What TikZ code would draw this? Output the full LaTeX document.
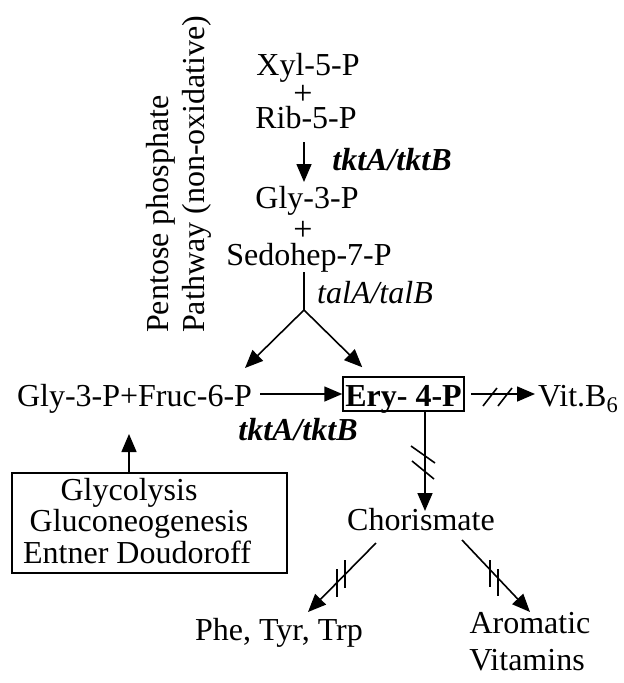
\documentclass[tikz,border=0pt]{standalone}
\usepackage{fontspec}
\setmainfont{Liberation Serif}
\usetikzlibrary{arrows.meta,calc}
\begin{document}
\begin{tikzpicture}[x=1pt,y=-1pt,
  txt/.style={inner sep=0pt, anchor=base, font=\fontsize{32}{36}\selectfont},
  bi/.style={txt, font=\fontsize{32}{36}\selectfont\bfseries\itshape},
  it/.style={txt, font=\fontsize{32}{36}\selectfont\itshape},
  plus/.style={inner sep=0pt, anchor=center, font=\fontsize{34}{36}\selectfont},
  arr/.style={line width=1.6pt, -{Triangle[length=18pt,width=15pt]}},
  ln/.style={line width=1.6pt},
  boxed/.style={draw, line width=1.5pt, inner sep=0pt},
]
\useasboundingbox (0,0) rectangle (624,683);

% rotated pathway label
\node[txt, rotate=90, anchor=base west] (ppp) at (168,333) {Pentose phosphate};
\node[txt, rotate=90, anchor=base west] (pwy) at (204,333) {Pathway (non-oxidative)};

% upper column
\node[txt] (xyl) at (308,75) {Xyl-5-P};
\node[plus] (plus1) at (303,95) {+};
\node[txt] (rib) at (306,128) {Rib-5-P};
\node[bi] (tkt1) at (392,170) {tktA/tktB};
\node[txt] (gly) at (307,208) {Gly-3-P};
\node[plus] (plus2) at (303,231) {+};
\node[txt] (sedo) at (309,265) {Sedohep-7-P};
\node[it] (tal) at (375,303) {talA/talB};
\coordinate (apex) at (304,310);

% middle row
\node[txt] (gf) at (134.5,406) {Gly-3-P+Fruc-6-P};
\node[boxed, anchor=base, text height=29pt, text depth=5pt, minimum width=121pt,
      font=\fontsize{32}{36}\selectfont\bfseries] (ery) at (403.5,406) {Ery- 4-P};
\node[txt, anchor=base west] (vit) at (538,406) {Vit.B\textsubscript{6}};
\node[bi] (tkt2) at (298,440) {tktA/tktB};

% glycolysis box
\node[boxed, minimum width=275pt, minimum height=100pt] (glycbox) at (149.5,523) {};
\node[txt] (gl1) at (129,500) {Glycolysis};
\node[txt] (gl2) at (139,531) {Gluconeogenesis};
\node[txt] (gl3) at (137,563) {Entner Doudoroff};

% lower part
\node[txt] (chor) at (421,530) {Chorismate};
\node[txt] (phe) at (279,640) {Phe, Tyr, Trp};
\node[txt] (arom1) at (530,633) {Aromatic};
\node[txt] (arom2) at (527,670) {Vitamins};

% connectors
\draw[arr] ($(rib.base)+(-2,14)$) -- ($(gly.base)+(-3,-26)$);
\draw[ln] ($(sedo.base)+(-5,7)$) -- (apex);
\draw[arr] (apex) -- ($(gf.base)+(110.5,-38)$);
\draw[arr] (apex) -- ($(ery.north west)+(20,-9)$);
\draw[arr] ($(ery.west)+(-82,0)$) -- (ery.west);
\draw[arr] ($(ery.east)+(6,0)$) -- ($(ery.east -| vit.west)+(-3,0)$);
\draw[arr] ($(ery.south)+(21.5,0)$) -- ($(chor.base)+(4,-19)$);
\draw[arr] ($(glycbox.north)+(-20.5,0)$) -- ($(gf.base)+(-5.5,28)$);
\draw[arr] ($(chor.base)+(-45,13)$) -- ($(phe.base)+(29,-28)$);
\draw[arr] ($(chor.base)+(41,10)$) -- ($(arom1.base)+(0,-21)$);

% break marks
\draw[ln] (483,406) -- (497,388);
\draw[ln] (498,406) -- (512,388);
\draw[ln] (411,446) -- (435,463);
\draw[ln] (412,461) -- (434,479);
\draw[ln] (337,569) -- (337,597);
\draw[ln] (345,560) -- (345,588);
\draw[ln] (490,560) -- (490,587);
\draw[ln] (498,569) -- (498,596);
\end{tikzpicture}
\end{document}
